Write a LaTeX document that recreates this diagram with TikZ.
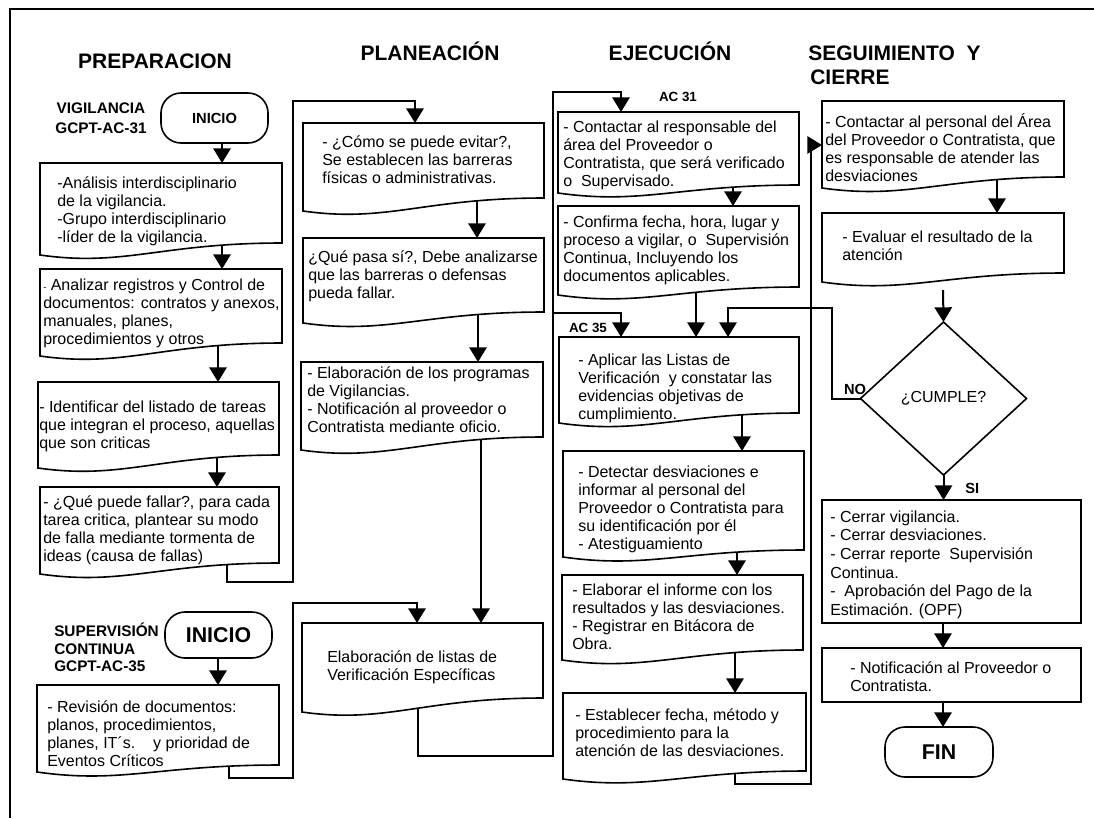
\documentclass[tikz,border=0pt]{standalone}
\usepackage{fontspec}
\setmainfont{Liberation Sans}
\usetikzlibrary{arrows.meta,calc,fit,shapes.geometric,backgrounds}
\newcommand{\mystrut}{\rule{0pt}{12pt}}
\newcommand{\bodyfont}{\fontsize{12}{13.5}\selectfont\lineskiplimit=-20pt\relax}
\newcommand{\docshape}[2]{%
  \filldraw[boxline,fill=white] (#1.south east) -- (#1.north east) -- (#1.north west) -- ($(#1.south west)+(0,#2)$) .. controls ($(#1.south west)!0.35!(#1.south east)+(0,#2+12)$) and ($(#1.south west)!0.5!(#1.south east)$) .. (#1.south east) -- cycle;}
\begin{document}
\begin{tikzpicture}[x=0.75pt,y=-0.75pt,
  boxline/.style={line width=1.2pt},
  shp/.style={inner sep=0pt, outer sep=0pt},
  rbox/.style={shp, draw, line width=1.2pt, fill=white},
  term/.style={shp, draw, line width=1.2pt, rounded corners=15pt, fill=white, font=\bfseries\fontsize{16}{18}\selectfont},
  txt/.style={inner sep=0pt, anchor=north west, align=left, font=\bodyfont},
  lbl/.style={inner sep=0pt, font=\bfseries\fontsize{11.5}{15}\selectfont},
  head/.style={inner sep=0pt, anchor=base, font=\bfseries\fontsize{15.75}{18}\selectfont},
  conn/.style={line width=1.5pt},
  arr/.style={conn, -{Triangle[width=13pt,length=11pt]}},
]
\useasboundingbox (0,0) rectangle (1094,818);

% headings
\node[head] (hPrep) at (155,68) {PREPARACION};
\node[head] (hPlan) at (430,60) {PLANEACIÓN};
\node[head] (hEje) at (670,60) {EJECUCIÓN};
\node[head, anchor=base west] (hSeg) at (808,60) {SEGUIMIENTO\ \ Y};
\node[head, anchor=base west] (hCie) at (810,84) {CIERRE};

% labels
\node[lbl, anchor=north, align=center] (lVig) at (101,97.5) {\mystrut VIGILANCIA\\GCPT-AC-31};
\node[lbl, anchor=north west, align=left, font=\bfseries\fontsize{11.5}{13}\selectfont] (lSup) at (54,620.5) {\mystrut SUPERVISIÓN\\CONTINUA\\GCPT-AC-35};
\node[lbl, font=\bfseries\fontsize{10}{12}\selectfont, anchor=base] (lAC31) at (678,101.5) {AC 31};
\node[lbl, font=\bfseries\fontsize{10}{12}\selectfont, anchor=base] (lAC35) at (588,332.5) {AC 35};
\node[lbl, font=\bfseries\fontsize{11}{13}\selectfont, anchor=base] (lNO) at (855,394) {NO};
\node[lbl, font=\bfseries\fontsize{11}{13}\selectfont, anchor=base west] (lSI) at (965,493) {SI};

% terminals
\node[term, font=\bfseries\fontsize{11}{13}\selectfont, minimum width=80.25pt, minimum height=37.5pt] (INI1) at (214.5,118) {INICIO};
\node[term, minimum width=80.25pt, minimum height=34.5pt] (INI2) at (218.5,635) {INICIO};
\node[term, minimum width=81pt, minimum height=37.5pt] (FIN) at (939,752) {FIN};

% PREPARACION column
\node[shp, fit={(40,163) (282,243)}] (B1) {};
\docshape{B1}{12}
\node[txt] (tB1) at (57,172) {\mystrut -Análisis interdisciplinario\\de la vigilancia.\\-Grupo interdisciplinario\\-líder de la vigilancia.};

\node[shp, fit={(40,269) (282,343)}] (B2) {};
\docshape{B2}{13}
\node[txt] (tB2) at (43,274) {\mystrut{\fontsize{7}{7}\selectfont -} Analizar registros y Control de\\documentos: contratos y anexos,\\manuales, planes,\\procedimientos y otros};

\node[shp, fit={(38,382) (279,455)}] (B3) {};
\docshape{B3}{13}
\node[txt] (tB3) at (39,396) {\mystrut - Identificar del listado de tareas\\que integran el proceso, aquellas\\que son criticas};

\node[shp, fit={(40,487) (279,563)}] (B4) {};
\docshape{B4}{11}
\node[txt] (tB4) at (43,491) {\mystrut - ¿Qué puede fallar?, para cada\\tarea critica, plantear su modo\\de falla mediante tormenta de\\ideas (causa de fallas)};

\node[shp, fit={(37,685) (279,765)}] (B5) {};
\docshape{B5}{7}
\node[txt] (tB5) at (47,696) {\mystrut - Revisión de documentos:\\planos, procedimientos,\\planes, IT´s.\ \ \ \ y prioridad de\\Eventos Críticos};

% PLANEACION column
\node[shp, fit={(303,123) (544,198)}] (P1) {};
\docshape{P1}{13}
\node[txt] (tP1) at (322,131) {\mystrut - ¿Cómo se puede evitar?,\\Se establecen las barreras\\físicas o administrativas.};

\node[shp, fit={(303,238) (544,312)}] (P2) {};
\docshape{P2}{11}
\node[txt] (tP2) at (308,246) {\mystrut ¿Qué pasa sí?, Debe analizarse\\que las barreras o defensas\\pueda fallar.};

\node[shp, fit={(301,362) (543,437)}] (P3) {};
\docshape{P3}{13}
\node[txt] (tP3) at (307,362.5) {\mystrut - Elaboración de los programas\\de Vigilancias.\\- Notificación al proveedor o\\Contratista mediante oficio.};

\node[shp, fit={(302,623) (543,698)}] (P4) {};
\docshape{P4}{14}
\node[txt] (tP4) at (327,646) {\mystrut Elaboración de listas de\\Verificación Específicas};

% EJECUCION column
\node[shp, fit={(558,112) (799,185)}] (E1) {};
\docshape{E1}{8}
\node[txt] (tE1) at (563,116) {\mystrut - Contactar al responsable del\\área del Proveedor o\\Contratista, que será verificado\\o\ \ Supervisado.};

\node[shp, fit={(558,206) (799,287)}] (E2) {};
\docshape{E2}{8}
\node[txt] (tE2) at (563,211) {\mystrut - Confirma fecha, hora, lugar y\\proceso a vigilar, o\ \ Supervisión\\Continua, Incluyendo los\\documentos aplicables.};

\node[shp, fit={(559,337) (799,413)}] (E3) {};
\docshape{E3}{10}
\node[txt] (tE3) at (578,349) {\mystrut - Aplicar las Listas de\\Verificación\ \ y constatar las\\evidencias objetivas de\\cumplimiento.};

\node[shp, fit={(563,451) (804,550)}] (E4) {};
\docshape{E4}{7}
\node[txt] (tE4) at (578,461) {\mystrut - Detectar desviaciones e\\informar al personal del\\Proveedor o Contratista para\\su identificación por él\\- Atestiguamiento};

\node[shp, fit={(562,575) (803,650)}] (E5) {};
\docshape{E5}{10}
\node[txt] (tE5) at (572,579) {\mystrut - Elaborar el informe con los\\resultados y las desviaciones.\\- Registrar en Bitácora de\\Obra.};

\node[shp, fit={(563,693) (806,771)}] (E6) {};
\docshape{E6}{8}
\node[txt] (tE6) at (575,704) {\mystrut - Establecer fecha, método y\\procedimiento para la\\atención de las desviaciones.};

% SEGUIMIENTO column
\node[shp, fit={(822,101) (1064,177)}] (S1) {};
\docshape{S1}{11}
\node[txt] (tS1) at (825,111) {\mystrut - Contactar al personal del Área\\del Proveedor o Contratista, que\\es responsable de atender las\\desviaciones};

\node[shp, fit={(822,213) (1064,273)}] (S2) {};
\docshape{S2}{9}
\node[txt] (tS2) at (842,226) {\mystrut - Evaluar el resultado de la\\atención};

\node[diamond, draw, line width=1.2pt, fill=white, inner sep=0pt, outer sep=0pt, minimum width=124.5pt, minimum height=114.75pt, font=\bodyfont] (D) at (943.5,398.5) {¿CUMPLE?};

\node[rbox, fit={(822,500) (1081,623)}] (C1) {};
\node[txt, font=\fontsize{12}{14}\selectfont] (tC1) at (830,506) {\mystrut - Cerrar vigilancia.\\- Cerrar desviaciones.\\- Cerrar reporte\ \ Supervisión\\Continua.\\-\ \ Aprobación del Pago de la\\Estimación. (OPF)};

\node[rbox, fit={(822,648) (1081,702)}] (N) {};
\node[txt] (tN) at (850,657) {\mystrut - Notificación al Proveedor o\\Contratista.};

% connector coordinates
\coordinate (xa) at (222,0);
\coordinate (xb) at (218,0);
\coordinate (xc) at (217,0);
\coordinate (xp1) at (477,0);
\coordinate (xp2) at (478,0);
\coordinate (xp3) at (481,0);
\coordinate (xe1) at (733,0);
\coordinate (xe2) at (696,0);
\coordinate (xe3) at (742,0);
\coordinate (xe4) at (737,0);
\coordinate (xe5) at (735,0);
\coordinate (xs1) at (997,0);
\coordinate (xs2) at (943,0);
\coordinate (k1) at (227,582);
\coordinate (k2) at (293,582);
\coordinate (k3) at (293,101);
\coordinate (k4) at (415,101);
\coordinate (m1) at (229,778);
\coordinate (m2) at (293,778);
\coordinate (m3) at (293,603);
\coordinate (m4) at (417,603);
\coordinate (n1) at (418,756);
\coordinate (n2) at (553,756);
\coordinate (n3) at (553,92);
\coordinate (n4) at (621,92);
\coordinate (n5) at (553,313);
\coordinate (n6) at (621,313);
\coordinate (q1) at (735,784);
\coordinate (q2) at (811,784);
\coordinate (q3) at (811,145);
\coordinate (r1) at (832,398.5);
\coordinate (r2) at (832,308);
\coordinate (r3) at (728,308);

\begin{pgfonlayer}{background}
\draw[line width=1.5pt] (1094,9) -- (10,9) -- (10,818);
\draw[arr] (INI1.south -| xa) -- (B1.north -| xa);
\draw[arr] (B1.south -| xa) -- (B2.north -| xa);
\draw[arr] (B2.south -| xb) -- (B3.north -| xb);
\draw[arr] (B3.south -| xc) -- (B4.north -| xc);
\draw[arr] (B4.south -| k1) -- (k1) -- (k2) -- (k3) -- (k4) -- (P1.north -| k4);
\draw[arr] (INI2.south -| xb) -- (B5.north -| xb);
\draw[arr] (B5.south -| m1) -- (m1) -- (m2) -- (m3) -- (m4) -- (P4.north -| m4);
\draw[arr] (P1.south -| xp1) -- (P2.north -| xp1);
\draw[arr] (P2.south -| xp2) -- (P3.north -| xp2);
\draw[arr] (P3.south -| xp3) -- (P4.north -| xp3);
\draw[arr] (P4.south -| n1) -- (n1) -- (n2) -- (n3) -- (n4) -- (E1.north -| n4);
\draw[arr] (n5) -- (n6) -- (E3.north -| n6);
\draw[arr] (E1.south -| xe1) -- (E2.north -| xe1);
\draw[arr] (E2.south -| xe2) -- (E3.north -| xe2);
\draw[arr] (E3.south -| xe3) -- (E4.north -| xe3);
\draw[arr] (E4.south -| xe4) -- (E5.north -| xe4);
\draw[arr] (E5.south -| xe5) -- (E6.north -| xe5);
\draw[arr] (E6.south -| q1) -- (q1) -- (q2) -- (q3) -- (S1.west |- q3);
\draw[arr] (S1.south -| xs1) -- (S2.north -| xs1);
\draw[arr] ($(S2.south -| xs2)+(0,17)$) -- (D.north);
\draw[arr] (D.west) -- (r1) -- (r2) -- (r3) -- (E3.north -| r3);
\draw[arr] (D.south) -- (C1.north -| D.south);
\draw[arr] (C1.south -| xs2) -- (N.north -| xs2);
\draw[arr] (N.south -| xs2) -- (FIN.north -| xs2);
\end{pgfonlayer}
\end{tikzpicture}
\end{document}
